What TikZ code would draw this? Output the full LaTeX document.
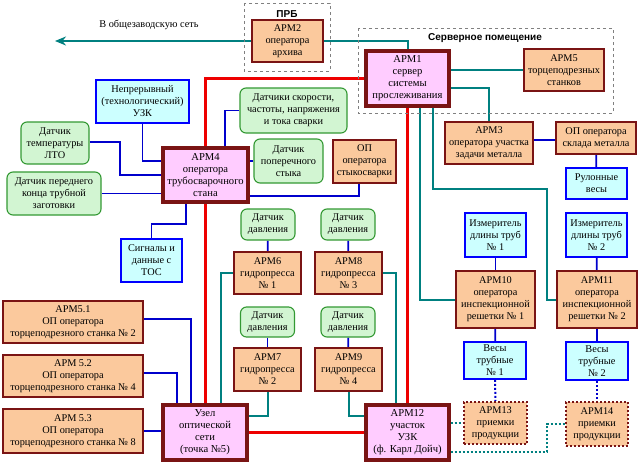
\documentclass[tikz,border=0pt]{standalone}
\usepackage{fontspec}
\setmainfont{Liberation Serif}
\newfontfamily\labelsans{Liberation Sans}
\usetikzlibrary{backgrounds,arrows.meta}
\definecolor{orfill}{HTML}{FBC99D}
\definecolor{pkfill}{HTML}{FFCCFF}
\definecolor{grfill}{HTML}{D2F5D2}
\definecolor{cyfill}{HTML}{CCFFFF}
\definecolor{maroon}{HTML}{7A1414}
\definecolor{grline}{HTML}{339933}
\definecolor{tealc}{HTML}{008080}
\definecolor{bluec}{HTML}{0000CC}
\definecolor{redc}{HTML}{EE0000}
\tikzset{
  every node/.style={inner sep=1pt, align=center, font=\fontsize{10.3}{12}\selectfont},
  orangebox/.style={draw=maroon, line width=2.4pt, fill=orfill},
  pinkbox/.style={draw=maroon, line width=3.2pt, fill=pkfill, font=\fontsize{10.6}{12}\selectfont},
  greenbox/.style={draw=grline, line width=1.1pt, fill=grfill, rounded corners=6pt},
  cyanbox/.style={draw=blue, line width=1.8pt, fill=cyfill},
  dotbox/.style={draw=maroon, line width=2pt, dotted, fill=orfill},
  tealln/.style={draw=tealc, line width=2pt},
  blueln/.style={draw=bluec, line width=1.8pt},
  redln/.style={draw=redc, line width=3pt},
  dotblue/.style={draw=bluec, line width=2pt, dotted},
  dotteal/.style={draw=tealc, line width=2pt, dotted},
  areabox/.style={draw=gray, line width=0.8pt, dashed},
  arealabel/.style={font=\labelsans\bfseries\fontsize{10}{12}\selectfont},
}
\begin{document}
\begin{tikzpicture}[x=1pt,y=-1pt]
\useasboundingbox (0,0) rectangle (640,463);
% areas
\draw[areabox] (244,3) rectangle (330,71);
\node[arealabel] (prb) at (287,14) {ПРБ};
\draw[areabox] (358,28) rectangle (613,113);
\node[arealabel] (srv) at (485,38) {Серверное помещение};
% nodes
\node[orangebox, minimum width=71pt, minimum height=42pt] (A2) at (287.5,41) {АРМ2\\оператора\\архива};
\node[pinkbox, minimum width=83pt, minimum height=55pt] (A1) at (407.5,78.5) {АРМ1\\сервер\\системы\\прослеживания};
\node[orangebox, minimum width=80pt, minimum height=42pt] (A5) at (564,70) {АРМ5\\торцеподрезных\\станков};
\node[orangebox, minimum width=88pt, minimum height=42pt] (A3) at (489,143) {АРМ3\\оператора участка\\задачи металла};
\node[orangebox, minimum width=80pt, minimum height=32pt] (Sklad) at (596,138) {ОП оператора\\склада металла};
\node[cyanbox, minimum width=61pt, minimum height=31pt] (Rulon) at (596.5,183.5) {Рулонные\\весы};
\node[cyanbox, minimum width=61pt, minimum height=44pt] (Izm1) at (495.5,235) {Измеритель\\длины труб\\№ 1};
\node[cyanbox, minimum width=61pt, minimum height=44pt] (Izm2) at (596.5,235) {Измеритель\\длины труб\\№ 2};
\node[orangebox, minimum width=79pt, minimum height=57pt] (A10) at (495.5,299.5) {АРМ10\\оператора\\инспекционной\\решетки № 1};
\node[orangebox, minimum width=80pt, minimum height=57pt] (A11) at (597,299.5) {АРМ11\\оператора\\инспекционной\\решетки № 2};
\node[cyanbox, minimum width=62pt, minimum height=37pt] (Ves1) at (495,360.5) {Весы\\трубные\\№ 1};
\node[cyanbox, minimum width=62pt, minimum height=38pt] (Ves2) at (597,361) {Весы\\трубные\\№ 2};
\node[dotbox, minimum width=63pt, minimum height=42pt] (A13) at (495.5,423) {АРМ13\\приемки\\продукции};
\node[dotbox, minimum width=62pt, minimum height=44pt] (A14) at (597,424) {АРМ14\\приемки\\продукции};
\node[pinkbox, minimum width=83pt, minimum height=55pt] (A12) at (407.5,432.5) {АРМ12\\участок\\УЗК\\(ф. Карл Дойч)};
\node[pinkbox, minimum width=84pt, minimum height=55pt] (Uzel) at (205,432.5) {Узел\\оптической\\сети\\(точка №5)};
\node[orangebox, minimum width=140pt, minimum height=42pt] (A51) at (73,322) {АРМ5.1\\ОП оператора\\торцеподрезного станка № 2};
\node[orangebox, minimum width=140pt, minimum height=42pt] (A52) at (73,376) {АРМ 5.2\\ОП оператора\\торцеподрезного станка № 4};
\node[orangebox, minimum width=140pt, minimum height=44pt] (A53) at (73,431) {АРМ 5.3\\ОП оператора\\торцеподрезного станка № 8};
\node[orangebox, minimum width=67pt, minimum height=42pt] (A6) at (267.5,273) {АРМ6\\гидропресса\\№ 1};
\node[orangebox, minimum width=67pt, minimum height=42pt] (A8) at (348.5,273) {АРМ8\\гидропресса\\№ 3};
\node[orangebox, minimum width=67pt, minimum height=43pt] (A7) at (267.5,369.5) {АРМ7\\гидропресса\\№ 2};
\node[orangebox, minimum width=67pt, minimum height=43pt] (A9) at (348.5,369.5) {АРМ9\\гидропресса\\№ 4};
\node[greenbox, minimum width=54pt, minimum height=31pt] (D6) at (268,224.5) {Датчик\\давления};
\node[greenbox, minimum width=54pt, minimum height=31pt] (D8) at (348,224.5) {Датчик\\давления};
\node[greenbox, minimum width=54pt, minimum height=30pt] (D7) at (267.5,322) {Датчик\\давления};
\node[greenbox, minimum width=54pt, minimum height=30pt] (D9) at (348,322) {Датчик\\давления};
\node[pinkbox, minimum width=85pt, minimum height=54pt] (A4) at (205.5,175) {АРМ4\\оператора\\трубосварочного\\стана};
\node[cyanbox, minimum width=93pt, minimum height=43pt] (UZK) at (142.5,101.5) {Непрерывный\\(технологический)\\УЗК};
\node[greenbox, minimum width=68pt, minimum height=42pt] (LTO) at (55,143) {Датчик\\температуры\\ЛТО};
\node[greenbox, minimum width=94pt, minimum height=43pt] (Front) at (54,193.5) {Датчик переднего\\конца трубной\\заготовки};
\node[cyanbox, minimum width=61pt, minimum height=43pt] (TOS) at (151.5,260.5) {Сигналы и\\данные с\\ТОС};
\node[greenbox, minimum width=107pt, minimum height=45pt] (Speed) at (293.5,110.5) {Датчики скорости,\\частоты, напряжения\\и тока сварки};
\node[greenbox, minimum width=69pt, minimum height=44pt] (Poper) at (288.5,161) {Датчик\\поперечного\\стыка};
\node[orangebox, minimum width=63pt, minimum height=43pt] (Styk) at (364.5,161.5) {ОП\\оператора\\стыкосварки};
\node (netlabel) at (149,25) {В общезаводскую сеть};
% helper coordinates
\coordinate (netend) at (55,41);
\coordinate (t2) at (547,189);
\coordinate (ltoK) at (120,175);
\coordinate (tosK) at (186,224);
\coordinate (dk) at (547,452);
% connectors
\begin{pgfonlayer}{background}
\fill[white] (0,0) rectangle (640,463);
\draw[tealln, -{Stealth[length=11pt,width=9pt]}] (A2.west) -- (netend);
\draw[tealln] (A2.east) -| (A1.north);
\draw[tealln] (A1.east |- A5.west) -- (A5.west);
\draw[tealln] ([yshift=-9.5pt]A1.east) -| (A3.north);
\draw[tealln] ([xshift=12.5pt]A1.south) |- (A10.west);
\draw[tealln] ([xshift=25.5pt]A1.south) |- (t2) |- (A11.west);
\draw[redln] (A1.west) -| (Uzel.north);
\draw[redln] (A1.south) -- (A12.north);
\draw[redln] (Uzel.east) -- (A12.west);
\draw[tealln] (A8.east) -| ([xshift=-11.5pt]A12.north);
\draw[tealln] (A6.west) -| ([xshift=16pt]Uzel.north);
\draw[tealln] (A7.south) |- ([yshift=16.5pt]Uzel.east);
\draw[tealln] (A9.south) |- ([yshift=16.5pt]A12.west);
\draw[blueln] (D6) -- (A6);
\draw[blueln] (D8) -- (A8);
\draw[blueln] (D7) -- (A7);
\draw[blueln] (D9) -- (A9);
\draw[blueln] (UZK.south) |- ([yshift=14pt]A4.west);
\draw[blueln] ([yshift=1pt]LTO.east) -| (ltoK) -- (A4.west);
\draw[blueln] (Front.east) -- (Front.east -| A4.west);
\draw[blueln] (TOS.north) |- (tosK) -- ([xshift=-19.5pt]A4.south);
\draw[blueln] ([xshift=19.5pt]A4.north) |- (Speed.west);
\draw[blueln] (A4.east |- Poper.west) -- (Poper.west);
\draw[blueln] ([yshift=-21pt]A4.east) -| ([xshift=-5.5pt]Styk.south);
\draw[blueln] ([yshift=-2pt]Sklad.west -| A3.east) -- ([yshift=-2pt]Sklad.west);
\draw[blueln] (Sklad) -- (Rulon);
\draw[blueln] (Izm1) -- (A10);
\draw[blueln] (Izm2) -- (A11);
\draw[blueln] (A10) -- (Ves1);
\draw[blueln] (A11) -- (Ves2);
\draw[dotblue] (Ves1.south) -- (A13.north);
\draw[dotblue] (Ves2.south) -- (A14.north);
\draw[dotteal] (A13.west -| A12.east) -- (A13.west);
\draw[dotteal] ([yshift=-19.5pt]A12.east) -- (dk) |- (A14.west);
\draw[blueln] ([yshift=3pt]A51.east) -| ([xshift=-14pt]Uzel.north);
\draw[blueln] ([yshift=3pt]A52.east) -| ([xshift=-28pt]Uzel.north);
\draw[blueln] (A53.east) -- (A53.east -| Uzel.west);
\end{pgfonlayer}
\end{tikzpicture}
\end{document}
